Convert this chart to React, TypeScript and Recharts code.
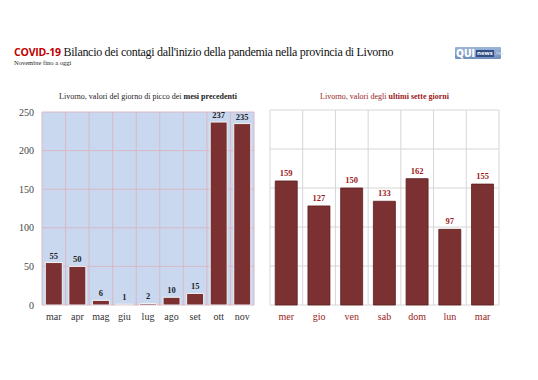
import React from "react";
import { BarChart, Bar, XAxis, YAxis, CartesianGrid, LabelList } from "recharts";

const monthCats = ["mar", "apr", "mag", "giu", "lug", "ago", "set", "ott", "nov"];
const monthVals = [55, 50, 6, 1, 2, 10, 15, 237, 235];
const dayCats = ["mer", "gio", "ven", "sab", "dom", "lun", "mar"];
const dayVals = [159, 127, 150, 133, 162, 97, 155];
const yTicks = [0, 50, 100, 150, 200, 250];

const monthData = monthCats.map((c, i) => ({ cat: c, v: monthVals[i] }));
const dayData = dayCats.map((c, i) => ({ cat: c, v: dayVals[i] }));

const SERIF = "'Liberation Serif', 'DejaVu Serif', serif";
const BAR = "#7b3131";

const boundaries = (n: number) => (props: any) => {
  const off = props.offset;
  const arr: number[] = [];
  for (let i = 0; i <= n; i++) arr.push(off.left + (i * off.width) / n);
  return arr;
};

export default function App() {
  return (
    <div style={{ position: "absolute", left: 0, top: 0, width: 538, height: 380, background: "#fff", overflow: "hidden", fontFamily: SERIF }}>
      <div style={{ position: "absolute", left: 14, top: 42, whiteSpace: "nowrap", color: "#111" }}>
        <span style={{ fontFamily: "'Open Sans', sans-serif", fontWeight: 700, color: "#c00000", fontSize: 10.5, letterSpacing: -0.2 }}>COVID-19</span>
        <span style={{ fontFamily: SERIF, fontSize: 12, letterSpacing: -0.3 }}> Bilancio dei contagi dall'inizio della pandemia nella provincia di Livorno</span>
      </div>
      <div style={{ position: "absolute", left: 14, top: 59, fontSize: 6.5, color: "#222", whiteSpace: "nowrap" }}>Novembre fino a oggi</div>
      <div style={{ position: "absolute", left: 455, top: 47, width: 46, height: 12, background: "linear-gradient(#9db5d8, #6f8fbf)", borderRadius: 1, display: "flex", alignItems: "center", paddingLeft: 1, boxSizing: "border-box" }}>
        <span style={{ fontFamily: "'Open Sans', sans-serif", fontWeight: 800, fontSize: 10, color: "#fff", lineHeight: "12px" }}>QUI</span>
        <span style={{ fontFamily: "'Open Sans', sans-serif", fontWeight: 700, fontSize: 6, color: "#fff", background: "#2f4f86", marginLeft: 1, lineHeight: "7px", padding: "0 1px" }}>news</span>
        <span style={{ fontFamily: "'Open Sans', sans-serif", fontSize: 5, color: "#dde", marginLeft: 1 }}>.net</span>
      </div>

      <div style={{ position: "absolute", left: 42, width: 212, top: 92, textAlign: "center", fontSize: 8, color: "#222", whiteSpace: "nowrap" }}>
        Livorno, valori del giorno di picco dei <b>mesi precedenti</b>
      </div>
      <div style={{ position: "absolute", left: 270, width: 229, top: 92, textAlign: "center", fontSize: 8, color: "#9a1b1b", whiteSpace: "nowrap" }}>
        Livorno, valori degli <b>ultimi sette giorni</b>
      </div>

      <div style={{ position: "absolute", left: 0, top: 0 }}>
        <BarChart width={260} height={340} data={monthData} margin={{ top: 112, right: 6, bottom: 5, left: 0 }} barCategoryGap="14%">
          <CartesianGrid fill="#c9d8ef" stroke="#d8b8c6" strokeWidth={1} verticalCoordinatesGenerator={boundaries(monthCats.length)} />
          <XAxis dataKey="cat" height={30} axisLine={false} tickLine={false} tick={{ fontFamily: SERIF, fontSize: 10, fill: "#333" }} interval={0} />
          <YAxis width={42} domain={[0, 250]} ticks={yTicks} axisLine={false} tickLine={false} tick={{ fontFamily: SERIF, fontSize: 10, fill: "#444" }} />
          <Bar dataKey="v" fill={BAR} stroke="#f4f4f4" strokeWidth={1} isAnimationActive={false}>
            <LabelList dataKey="v" position="top" offset={4} style={{ fontFamily: SERIF, fontSize: 8.5, fontWeight: 700, fill: "#1e1e2a" }} />
          </Bar>
        </BarChart>
      </div>

      <div style={{ position: "absolute", left: 260, top: 0 }}>
        <BarChart width={278} height={340} data={dayData} margin={{ top: 110, right: 39, bottom: 5, left: 10 }} barCategoryGap="16%">
          <CartesianGrid fill="#ffffff" stroke="#d6d6d6" strokeWidth={1} verticalCoordinatesGenerator={boundaries(dayCats.length)} />
          <XAxis dataKey="cat" height={30} axisLine={false} tickLine={false} tick={{ fontFamily: SERIF, fontSize: 10, fill: "#9a1b1b" }} interval={0} />
          <YAxis hide domain={[0, 250]} ticks={yTicks} />
          <Bar dataKey="v" fill={BAR} stroke="#5e1e1e" strokeWidth={0.8} isAnimationActive={false}>
            <LabelList dataKey="v" position="top" offset={5} style={{ fontFamily: SERIF, fontSize: 8.5, fontWeight: 700, fill: "#9a1b1b" }} />
          </Bar>
        </BarChart>
      </div>
    </div>
  );
}
